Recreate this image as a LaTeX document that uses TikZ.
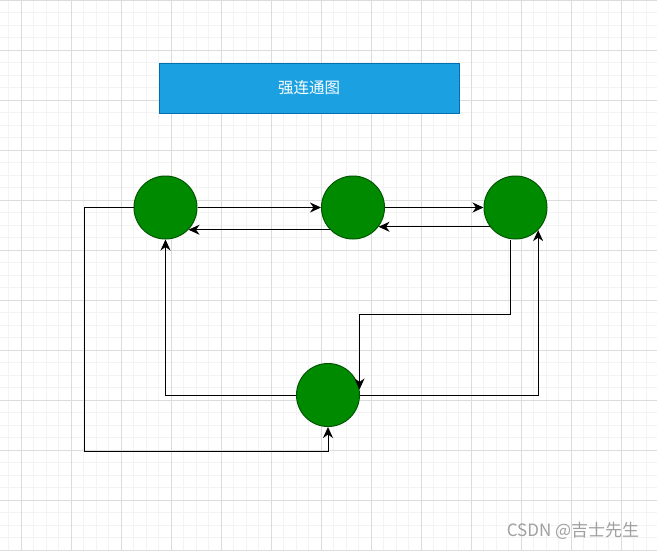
\documentclass[tikz,border=0pt]{standalone}
\usepackage{fontspec}
\newfontfamily\cjk{Noto Sans CJK SC}
\usetikzlibrary{arrows.meta}

\definecolor{gridmajor}{HTML}{DCDCDC}
\definecolor{gridminor}{HTML}{F3F3F3}
\definecolor{boxfill}{HTML}{1BA1E2}
\definecolor{boxdraw}{HTML}{006EAF}
\definecolor{vertexfill}{HTML}{008A00}
\definecolor{vertexdraw}{HTML}{005700}
\definecolor{marktext}{HTML}{A0A0A0}

\tikzset{
  vertex/.style={circle, draw=vertexdraw, fill=vertexfill, minimum size=63pt, inner sep=0pt},
  titlebox/.style={rectangle, draw=boxdraw, fill=boxfill, minimum width=300pt, minimum height=50pt,
    text=white, font=\cjk\fontsize{15.5}{17}\selectfont},
}

\begin{document}
\begin{tikzpicture}[x=1pt, y=-1pt, line width=1pt, >={Stealth[length=11pt,width=10pt,inset=3.5pt]}]
    \useasboundingbox (0,0) rectangle (657,550);
    \fill[white] (0,0) rectangle (657,550);
    % grid
    \foreach \i in {0,...,52} \draw[gridminor, line width=0.8pt] (8.8+12.5*\i,0) -- ++(0,550);
    \foreach \i in {0,...,44} \draw[gridminor, line width=0.8pt] (0,12.5*\i) -- ++(657,0);
    \foreach \i in {0,...,13} \draw[gridmajor, line width=0.8pt] (21.3+50*\i,0) -- ++(0,550);
    \foreach \i in {0,...,11} \draw[gridmajor, line width=0.8pt] (0,0.5+50*\i) -- ++(657,0);

    \node[titlebox] (title) at (309,88) {强连通图};
    \node[vertex] (v1) at (165.5,207.5) {};
    \node[vertex] (v2) at (353,207.5) {};
    \node[vertex] (v3) at (515.5,207.5) {};
    \node[vertex] (v4) at (328,395) {};

    \path (v1) edge [->] (v2);
    \path (v2.224) edge [->] (v1.-44);
    \path (v2) edge [->] (v3);
    \path (v3.217) edge [->] (v2.-37);
    \draw[->] (v1.west) -| ++(-49,244) -| (v4.south);
    \draw[->] (v4.west) -| (v1.south);
    \draw[->] ([xshift=-5pt]v3.south) -- ++(0,75) -| (v4.10);
    \draw[->] (v4.east) -| (v3.-45);

    \node[text=marktext, font=\cjk\fontsize{17}{19}\selectfont] (mark) at (573,531) {CSDN @吉士先生};
\end{tikzpicture}
\end{document}
